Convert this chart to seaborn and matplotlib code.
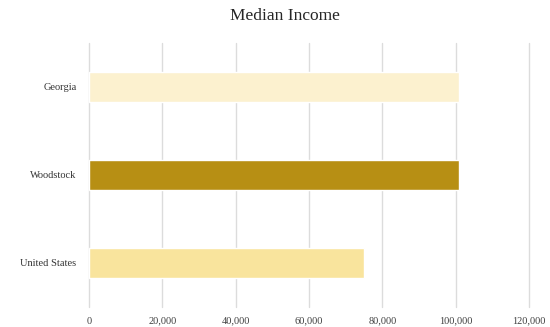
import matplotlib
matplotlib.use("Agg")
import matplotlib.pyplot as plt
import seaborn as sns
import pandas as pd
from matplotlib.ticker import FuncFormatter

places = ["Georgia", "Woodstock", "United States"]
median_income = [101000, 101000, 75000]
bar_colors = ["#FCF1CF", "#B78F14", "#F9E49D"]
x_ticks = [0, 20000, 40000, 60000, 80000, 100000, 120000]

df = pd.DataFrame({"place": places, "income": median_income})

sns.set_theme(style="white")
plt.rcParams["font.family"] = ["Liberation Serif", "DejaVu Serif"]

fig = plt.figure(figsize=(5.5, 3.27), dpi=100)
ax = fig.add_axes([0.1618, 0.0612, 0.80, 0.8073])

sns.barplot(data=df, y="place", x="income", hue="place",
            palette=dict(zip(places, bar_colors)), orient="h",
            width=0.34, legend=False, ax=ax, saturation=1)

ax.set_xlim(0, 120000)
ax.set_ylim(2.5, -0.5)
ax.set_xticks(x_ticks)
ax.xaxis.set_major_formatter(FuncFormatter(lambda v, p: f"{int(v):,}"))
ax.grid(axis="x", color="#DCDCDC", linewidth=1)
ax.grid(axis="y", visible=False)
ax.set_axisbelow(True)
for line in ax.get_xgridlines():
    line.set_clip_on(False)
for s in ax.spines.values():
    s.set_visible(False)
ax.tick_params(axis="x", length=0, pad=7, labelsize=7.5, colors="#404040")
ax.tick_params(axis="y", length=0, pad=9, labelsize=7.5, colors="#333333")
ax.set_xlabel("")
ax.set_ylabel("")

fig.suptitle("Median Income", y=0.975, x=0.518, fontsize=12.5, color="#262626")

fig.savefig("out.png", dpi=100)
